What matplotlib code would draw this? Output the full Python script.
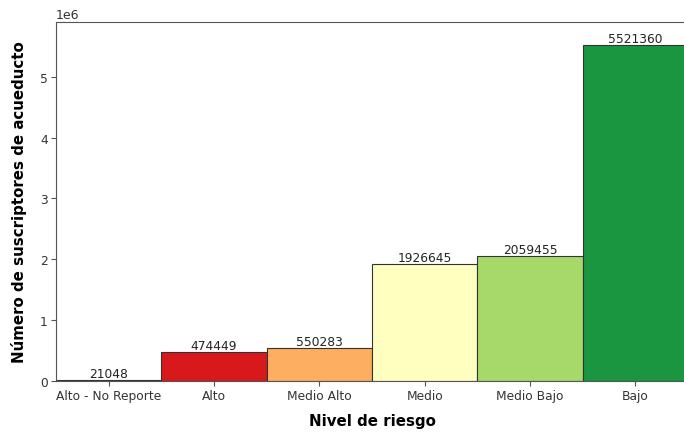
import matplotlib
matplotlib.use("Agg")
import matplotlib.pyplot as plt

niveles = ["Alto - No Reporte", "Alto", "Medio Alto", "Medio", "Medio Bajo", "Bajo"]
suscriptores = [21048, 474449, 550283, 1926645, 2059455, 5521360]
colores = ["#6b0f1a", "#d7191c", "#fdae61", "#ffffbf", "#a6d96a", "#1a9641"]

fig = plt.figure(figsize=(6.84, 4.35), dpi=100)
ax = fig.add_axes([56 / 684, 53 / 435, 632 / 684, 359 / 435])

barras = ax.bar(niveles, suscriptores, width=1.0, color=colores,
                edgecolor="#333333", linewidth=0.8)
ax.bar_label(barras, labels=[str(v) for v in suscriptores], fontsize=8.8,
             color="#222222", padding=0)

ax.set_xlim(-0.5, 5.5)
ax.set_ylim(0, 5.9e6)
ax.set_xlabel("Nivel de riesgo", fontsize=10.8, fontweight="bold", labelpad=8)
ax.set_ylabel("Número de suscriptores de acueducto", fontsize=10.8,
              fontweight="bold", labelpad=9)

for s in ax.spines.values():
    s.set_color("#555555")
ax.tick_params(colors="#555555", labelcolor="#333333", labelsize=8.8, pad=2.5)
ax.yaxis.get_offset_text().set_color("#333333")
ax.yaxis.get_offset_text().set_fontsize(9)

fig.savefig("out.png", dpi=100)
